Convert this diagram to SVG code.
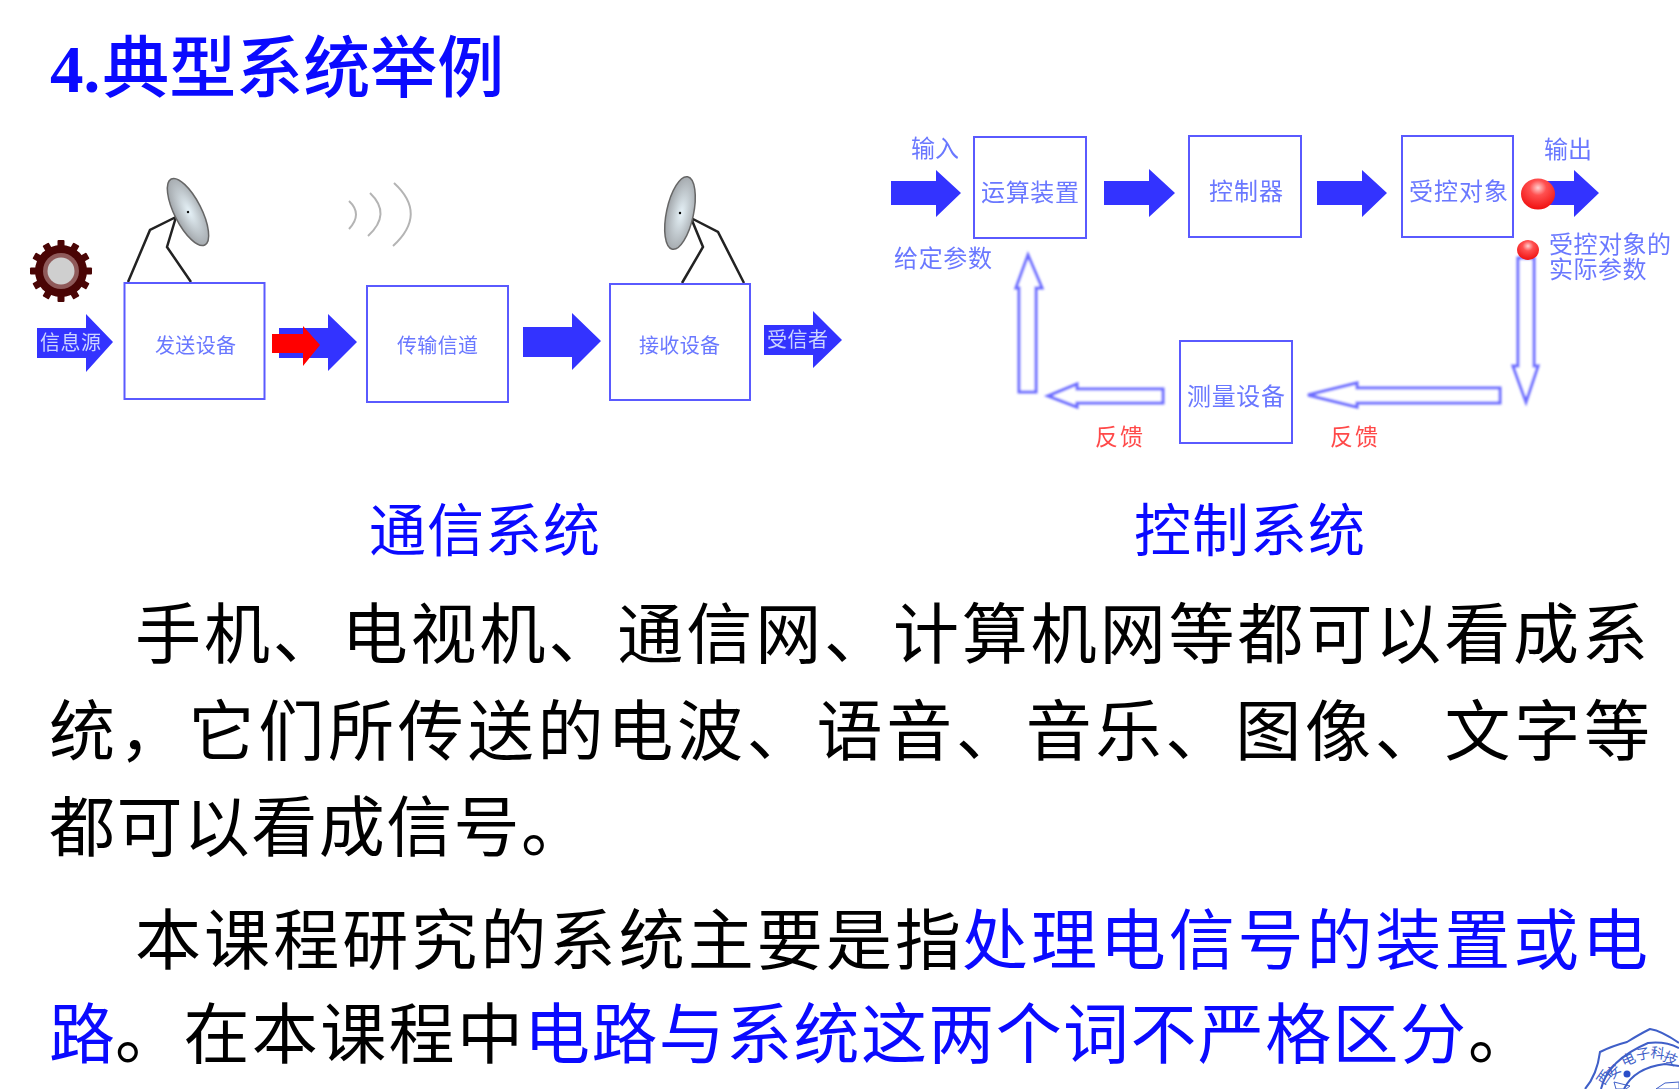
<svg xmlns="http://www.w3.org/2000/svg" width="1679" height="1089" viewBox="0 0 1679 1089">
<defs>
<style>
text{font-family:"Noto Sans CJK SC","Liberation Serif",sans-serif}
.box{fill:#fff;stroke:#5a5aff;stroke-width:2}
.arr{fill:#3333ff}
.hollow{fill:#fff;stroke:#6c6cff;stroke-width:3;filter:url(#soft)}
.lab{font-size:24px;fill:#6a78ff;filter:url(#tsoft)}
.lab2{font-size:20px;fill:#6a78ff;filter:url(#tsoft)}
.red{font-size:23px;fill:#ff4a4a;filter:url(#tsoft)}
.wht{font-size:20px;fill:#ccd4ff;filter:url(#tsoft)}
.b{font-size:66px;fill:#000}
.u{font-size:66px;fill:#0a0aff}
.cap{font-size:57px;fill:#0a0aff}
.leg{fill:none;stroke:#222;stroke-width:2.5}
.wave{fill:none;stroke:#b4b4b4;stroke-width:2}
.seal{fill:none;stroke:#3f5fc8;stroke-width:2}
.st{font-size:14px;fill:#3f5fc8}
</style>
<filter id="soft" x="-30%" y="-30%" width="160%" height="160%"><feGaussianBlur stdDeviation="1.1"/></filter>
<filter id="tsoft" x="-5%" y="-5%" width="110%" height="110%"><feGaussianBlur stdDeviation="0.35"/></filter>
<radialGradient id="dish" cx="0.55" cy="0.5" r="0.6"><stop offset="0" stop-color="#e6f2f8"/><stop offset="1" stop-color="#9a9ea2"/></radialGradient>
<radialGradient id="ball" cx="0.5" cy="0.3" r="0.7"><stop offset="0" stop-color="#ffd0d0"/><stop offset="0.35" stop-color="#ff5050"/><stop offset="1" stop-color="#f01010"/></radialGradient>
<g id="dishshape"><ellipse rx="13.500" ry="37" fill="url(#dish)" stroke="#666" stroke-width="1.500"/><circle r="1.200" fill="#000"/></g>
</defs>
<rect width="1679" height="1089" fill="#fff"/>

<g id="title"><text x="50" y="92" font-size="67" font-weight="700" fill="#0a0aff" style="font-family:'Liberation Serif','Noto Sans CJK SC',serif">4.<tspan dx="2" style="font-family:'Noto Sans CJK SC',sans-serif;font-weight:500">典型系统举例</tspan></text></g>

<g id="connectors">
<path class="arr" d="M37 328H86V314L113 342L86 372V358H37Z"/>
<path class="arr" d="M279 328H328V314L357 342L328 371V358H279Z"/>
<path d="M272 334H303V326L320 345L303 366V353H272Z" fill="#ff0000"/>
<path class="arr" d="M523 327H572V313L601 341L572 370V357H523Z"/>
<path class="arr" d="M764 325H813V311L842 340L813 368V355H764Z"/>
<path class="arr" d="M891 181H936V170L961 193L936 217V205H891Z"/>
<path class="arr" d="M1104 181H1149V169L1175 193L1149 217V205H1104Z"/>
<path class="arr" d="M1317 181H1362V170L1387 193L1362 217V205H1317Z"/>
<path class="arr" d="M1547 181H1574V170L1599 193L1574 217V205H1547Z"/>
<path class="hollow" d="M1019 392V288H1016L1028 255L1042 288H1036V392Z"/>
<path class="hollow" d="M1163 389H1077V384L1048 396L1077 407V403H1163Z"/>
<path class="hollow" d="M1518 258V366H1513L1526 402L1538 366H1534V258Z"/>
<path class="hollow" d="M1500 388H1357V383L1308 395L1357 407V403H1500Z"/>
</g>

<g id="source-gear">
<g fill="#4a0505" id="gear"><circle cx="61" cy="271" r="26"/>
<g><rect x="57.500" y="240" width="7" height="62" rx="1"/><rect x="57.500" y="240" width="7" height="62" rx="1" transform="rotate(30 61 271)"/><rect x="57.500" y="240" width="7" height="62" rx="1" transform="rotate(60 61 271)"/><rect x="57.500" y="240" width="7" height="62" rx="1" transform="rotate(90 61 271)"/><rect x="57.500" y="240" width="7" height="62" rx="1" transform="rotate(120 61 271)"/><rect x="57.500" y="240" width="7" height="62" rx="1" transform="rotate(150 61 271)"/></g></g>
<circle cx="61" cy="271" r="18" fill="#8f5a5a"/><circle cx="61" cy="271" r="13.500" fill="#cfcfcf"/>
</g>
<g id="source-label"><text class="wht" x="40" y="350" textLength="61">信息源</text></g>

<g id="sender">
<path class="leg" d="M176 217L150 230L128 282M176 217L167 247L191 282"/>
<use href="#dishshape" transform="translate(188 212) rotate(-27)"/>
<rect class="box" x="124.500" y="283" width="140" height="116"/>
<text class="lab2" x="155" y="353" textLength="81">发送设备</text>
</g>
<g id="waves"><path class="wave" d="M349 201Q363 214 349 229M370 193Q392 214 368 236M394 183Q428 214 393 246"/></g>
<g id="channel">
<rect class="box" x="367" y="286" width="141" height="116"/>
<text class="lab2" x="397" y="353" textLength="81">传输信道</text>
</g>
<g id="receiver">
<path class="leg" d="M691 218L718 232L744 283M691 218L703 247L682 283"/>
<use href="#dishshape" transform="translate(680 213) rotate(12)"/>
<rect class="box" x="610" y="284" width="140" height="116"/>
<text class="lab2" x="639" y="353" textLength="81">接收设备</text>
</g>
<g id="sink-label"><text class="wht" x="767" y="347" textLength="61">受信者</text></g>
<g id="caption-comm"><text class="cap" x="369" y="551" textLength="231">通信系统</text></g>

<g id="labels-ctrl">
<text class="lab" x="911" y="157" textLength="48">输入</text>
<text class="lab" x="894" y="267" textLength="98">给定参数</text>
<text class="lab" x="1544" y="158" textLength="48">输出</text>
<text class="lab" x="1549" y="253" letter-spacing="0.5"><tspan x="1549" y="253">受控对象的</tspan><tspan x="1549" y="278">实际参数</tspan></text>
<text class="red" x="1095" y="445" textLength="48">反馈</text>
<text class="red" x="1330" y="445" textLength="48">反馈</text>
</g>
<g id="adder"><rect class="box" x="974" y="137" width="112" height="101"/><text class="lab" x="981" y="201" textLength="98">运算装置</text></g>
<g id="controller"><rect class="box" x="1189" y="136" width="112" height="101"/><text class="lab" x="1209" y="200" textLength="74">控制器</text></g>
<g id="plant"><rect class="box" x="1402" y="136" width="111" height="101"/><text class="lab" x="1409" y="200" textLength="99">受控对象</text></g>
<g id="sensor"><rect class="box" x="1180" y="341" width="112" height="102"/><text class="lab" x="1187" y="405" textLength="98">测量设备</text></g>
<g id="ball-output"><ellipse cx="1538" cy="194" rx="17" ry="15.500" fill="url(#ball)"/></g>
<g id="ball-feedback"><ellipse cx="1528" cy="250" rx="11" ry="10" fill="url(#ball)"/></g>
<g id="caption-ctrl"><text class="cap" x="1134" y="551" textLength="231">控制系统</text></g>

<g id="body">
<text class="b" x="135" y="658" textLength="1513">手机、电视机、通信网、计算机网等都可以看成系</text>
<text class="b" x="49" y="755" textLength="1601">统，它们所传送的电波、语音、音乐、图像、文字等</text>
<text class="b" x="49" y="851" textLength="538">都可以看成信号。</text>
<text class="b" x="135" y="964" textLength="826">本课程研究的系统主要是指</text>
<text class="u" x="962" y="964" textLength="686">处理电信号的装置或电</text>
<text class="u" x="49" y="1058" textLength="66">路</text>
<text class="b" x="115" y="1058" textLength="408">。在本课程中</text>
<text class="u" x="524" y="1058" textLength="942">电路与系统这两个词不严格区分</text>
<text class="b" x="1468" y="1058" textLength="66">。</text>
</g>

<g id="seal">
<path class="seal" d="M1585 1089Q1597 1075 1600 1052Q1612 1046 1627 1042Q1640 1034 1650 1029Q1662 1031 1679 1043"/>
<path class="seal" d="M1601 1089Q1608 1060 1648 1043Q1665 1041 1679 1048"/>
<path class="seal" d="M1624 1089Q1634 1068 1665 1064L1679 1066"/>
<circle cx="1627" cy="1074" r="3.500" fill="#2a4fc8"/>
<path d="M1614 1082L1630 1086L1626 1089H1616Z M1656 1089L1665 1083L1679 1082V1089Z" fill="none" stroke="#3f5fc8" stroke-width="1"/>
<text class="st" transform="translate(1604 1086) rotate(-55)">西</text>
<text class="st" transform="translate(1612 1080) rotate(-45)">安</text>
<text class="st" transform="translate(1624 1067) rotate(-25)">电</text>
<text class="st" transform="translate(1637 1060) rotate(-10)">子</text>
<text class="st" transform="translate(1650 1057) rotate(8)">科</text>
<text class="st" transform="translate(1662 1060) rotate(25)">技</text>
</g>
</svg>
